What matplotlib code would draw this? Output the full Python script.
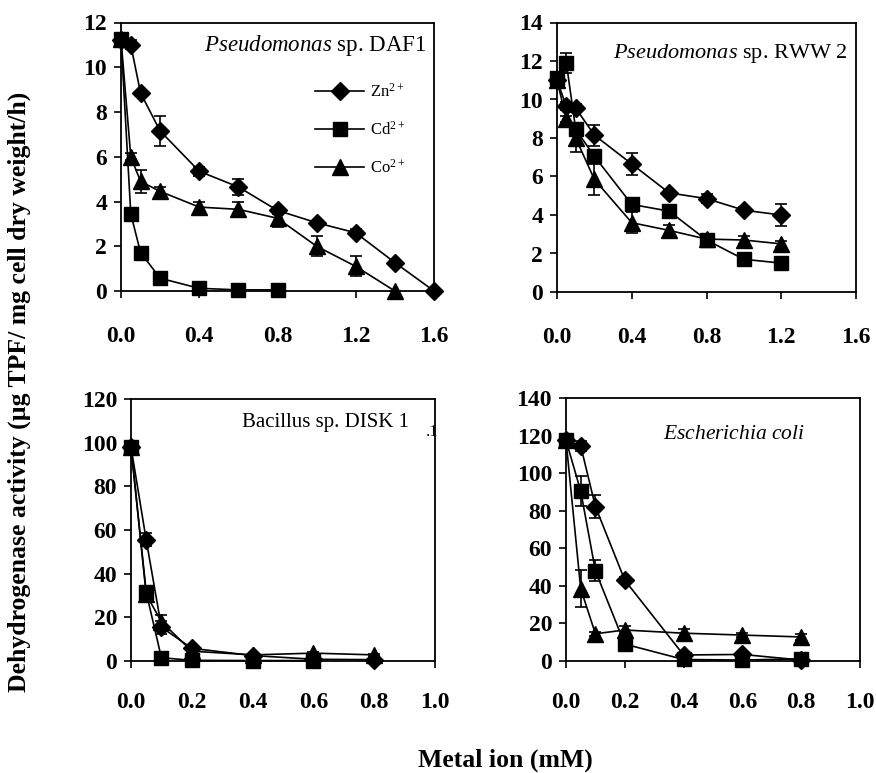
import matplotlib
matplotlib.use("Agg")
import matplotlib.pyplot as plt
from matplotlib.lines import Line2D
from matplotlib.ticker import FormatStrFormatter, MultipleLocator

plt.rcParams['font.family'] = ['Liberation Serif', 'DejaVu Serif']
plt.rcParams['mathtext.fontset'] = 'custom'
plt.rcParams['mathtext.rm'] = 'Liberation Serif'
plt.rcParams['mathtext.it'] = 'Liberation Serif:italic'
plt.rcParams['mathtext.bf'] = 'Liberation Serif:bold'

# === Data ===
# Pseudomonas sp. DAF1
daf1_x_zn = [0, 0.05, 0.1, 0.2, 0.4, 0.6, 0.8, 1.0, 1.2, 1.4, 1.6]
daf1_zn = [11.2, 11.0, 8.85, 7.15, 5.35, 4.65, 3.6, 3.05, 2.6, 1.27, 0.0]
daf1_zn_err = [0, 0.2, 0.1, 0.65, 0.2, 0.35, 0.15, 0.1, 0.15, 0.1, 0]
daf1_x_cd = [0, 0.05, 0.1, 0.2, 0.4, 0.6, 0.8]
daf1_cd = [11.25, 3.45, 1.72, 0.57, 0.12, 0.05, 0.05]
daf1_cd_err = [0, 0, 0, 0, 0, 0, 0]
daf1_x_co = [0, 0.05, 0.1, 0.2, 0.4, 0.6, 0.8, 1.0, 1.2, 1.4]
daf1_co = [11.25, 6.0, 4.9, 4.45, 3.75, 3.65, 3.25, 2.0, 1.1, 0.0]
daf1_co_err = [0, 0.15, 0.5, 0.2, 0.25, 0.35, 0.4, 0.45, 0.45, 0]

# Pseudomonas sp. RWW 2
rww2_x = [0, 0.05, 0.1, 0.2, 0.4, 0.6, 0.8, 1.0, 1.2]
rww2_zn = [11.0, 9.65, 9.55, 8.15, 6.65, 5.15, 4.85, 4.25, 4.0]
rww2_zn_err = [0, 0.2, 0.2, 0.55, 0.55, 0.15, 0.25, 0.15, 0.55]
rww2_cd = [11.1, 11.9, 8.45, 7.05, 4.55, 4.2, 2.7, 1.7, 1.5]
rww2_cd_err = [0, 0.5, 0.3, 0.3, 0.2, 0.2, 0.2, 0.1, 0.1]
rww2_co = [11.0, 9.0, 8.0, 5.85, 3.6, 3.2, 2.75, 2.7, 2.5]
rww2_co_err = [0, 0.15, 0.75, 0.8, 0.55, 0.3, 0.2, 0.2, 0.15]

# Bacillus sp. DISK 1
disk1_x = [0, 0.05, 0.1, 0.2, 0.4, 0.6, 0.8]
disk1_zn = [98, 55.5, 15.5, 5.8, 2.5, 0.8, 0.6]
disk1_zn_err = [0, 3, 3, 0.5, 0.3, 0.2, 0.2]
disk1_x_cd = [0, 0.05, 0.1, 0.2, 0.4, 0.6]
disk1_cd = [98, 31.5, 1.5, 0.3, 0.2, 0.2]
disk1_cd_err = [0, 2.5, 0.3, 0, 0, 0]
disk1_co = [98, 30.5, 18.0, 4.5, 2.8, 3.6, 2.8]
disk1_co_err = [0, 2, 3, 0.5, 0.3, 0.3, 0.3]

# Escherichia coli
ecoli_x = [0, 0.05, 0.1, 0.2, 0.4, 0.6, 0.8]
ecoli_zn = [117.5, 114.5, 82.2, 43.0, 3.2, 3.5, 0.5]
ecoli_zn_err = [0, 2.5, 6, 1.5, 0.5, 0.5, 0.2]
ecoli_cd = [117.5, 90.5, 48.0, 9.0, 0.8, 0.5, 1.2]
ecoli_cd_err = [0, 8, 5.5, 1, 0.2, 0.2, 0.2]
ecoli_co = [117.5, 38.5, 14.5, 16.5, 14.8, 13.8, 12.8]
ecoli_co_err = [0, 10, 1, 2, 2, 1, 1.5]

metal_labels = ['Zn$^{2+}$', 'Cd$^{2+}$', 'Co$^{2+}$']
MARKERS = [('D', 9), ('s', 10.5), ('^', 11)]
ZORDERS = [3, 5, 4]  # Cd squares sit on top, as in the reference

FIG_W, FIG_H = 876, 773

fig = plt.figure(figsize=(FIG_W / 100, FIG_H / 100), dpi=100)


def add_ax(left, right, top, bottom):
    return fig.add_axes([left / FIG_W, 1 - bottom / FIG_H,
                         (right - left) / FIG_W, (bottom - top) / FIG_H])


def style_ax(ax, xmax, xstep, ymax, ystep, xpad):
    ax.set_xlim(0, xmax)
    ax.set_ylim(0, ymax)
    ax.xaxis.set_major_locator(MultipleLocator(xstep))
    ax.yaxis.set_major_locator(MultipleLocator(ystep))
    ax.xaxis.set_major_formatter(FormatStrFormatter('%.1f'))
    ax.yaxis.set_major_formatter(FormatStrFormatter('%d'))
    ax.tick_params(direction='out', length=5, width=1.2, labelsize=17,
                   top=False, right=False, pad=5)
    ax.tick_params(axis='x', pad=xpad)
    for lab in ax.get_xticklabels() + ax.get_yticklabels():
        lab.set_fontweight('bold')
    for sp in ax.spines.values():
        sp.set_linewidth(1.3)


def draw(ax, x, y, err, idx):
    marker, ms = MARKERS[idx]
    ax.errorbar(x, y, yerr=err, color='black', marker=marker, ms=ms,
                lw=1.2, elinewidth=1.2, capsize=4.5, capthick=1.2,
                clip_on=False, zorder=ZORDERS[idx])


# --- Pseudomonas sp. DAF1 ---
ax1 = add_ax(121, 434, 22.5, 291)
draw(ax1, daf1_x_zn, daf1_zn, daf1_zn_err, 0)
draw(ax1, daf1_x_cd, daf1_cd, daf1_cd_err, 1)
draw(ax1, daf1_x_co, daf1_co, daf1_co_err, 2)
style_ax(ax1, 1.6, 0.4, 12, 2, 20)
ax1.text(0.975, 0.915, r"$\mathit{Pseudomonas}$ sp. DAF1", transform=ax1.transAxes,
         ha='right', va='center', fontsize=16.5)
handles = [Line2D([], [], color='black', lw=1.2, marker=m, ms=s) for m, s in MARKERS]
ax1.legend(handles, metal_labels, loc='upper left', bbox_to_anchor=(0.6, 0.80),
           frameon=False, fontsize=12, handlelength=2.9, labelspacing=1.2,
           handletextpad=0.4, borderaxespad=0)

# --- Pseudomonas sp. RWW 2 ---
ax2 = add_ax(557, 856, 22.5, 292)
draw(ax2, rww2_x, rww2_zn, rww2_zn_err, 0)
draw(ax2, rww2_x, rww2_cd, rww2_cd_err, 1)
draw(ax2, rww2_x, rww2_co, rww2_co_err, 2)
style_ax(ax2, 1.6, 0.4, 14, 2, 20)
ax2.text(0.97, 0.885, r"$\mathit{Pseudomonas}$ sp. RWW 2", transform=ax2.transAxes,
         ha='right', va='center', fontsize=16)

# --- Bacillus sp. DISK 1 ---
ax3 = add_ax(131, 435, 399, 661)
draw(ax3, disk1_x, disk1_zn, disk1_zn_err, 0)
draw(ax3, disk1_x_cd, disk1_cd, disk1_cd_err, 1)
draw(ax3, disk1_x, disk1_co, disk1_co_err, 2)
style_ax(ax3, 1.0, 0.2, 120, 20, 17)
ax3.text(0.915, 0.912, "Bacillus sp. DISK 1", transform=ax3.transAxes,
         ha='right', va='center', fontsize=15)
ax3.text(1.01, 0.875, ".1", transform=ax3.transAxes,
         ha='right', va='center', fontsize=12)

# --- Escherichia coli ---
ax4 = add_ax(566, 860, 398, 661)
draw(ax4, ecoli_x, ecoli_zn, ecoli_zn_err, 0)
draw(ax4, ecoli_x, ecoli_cd, ecoli_cd_err, 1)
draw(ax4, ecoli_x, ecoli_co, ecoli_co_err, 2)
style_ax(ax4, 1.0, 0.2, 140, 20, 17)
ax4.text(0.57, 0.86, r"$\mathit{Escherichia\ coli}$", transform=ax4.transAxes,
         ha='center', va='center', fontsize=15.5)

# --- Shared axis labels ---
fig.text(19 / FIG_W, 1 - 392 / FIG_H,
         "Dehydrogenase activity (\u00b5g TPF/ mg cell dry weight/h)",
         rotation=90, ha='center', va='center', fontsize=18.5, fontweight='bold')
fig.text(505 / FIG_W, 1 - 760 / FIG_H, "Metal ion (mM)",
         ha='center', va='center', fontsize=18.5, fontweight='bold')

fig.savefig("out.png", dpi=100)
